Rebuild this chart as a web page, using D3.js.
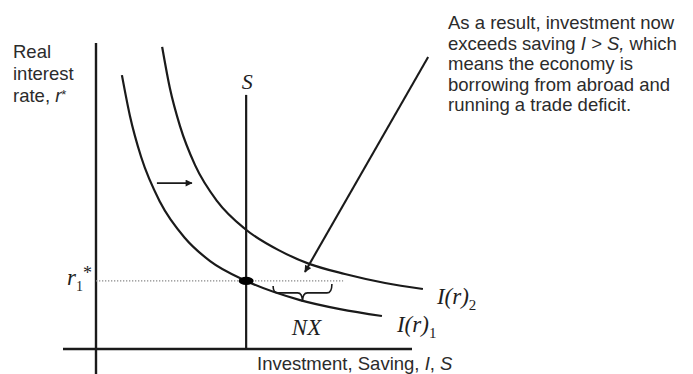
<!DOCTYPE html>
<html>
<head>
<meta charset="utf-8">
<script src="https://cdnjs.cloudflare.com/ajax/libs/d3/7.8.5/d3.min.js"></script>
<style>
    body { margin: 0; background: #fff; }
    .lbl { font-family: "Liberation Sans", Arial, sans-serif; font-size: 18.5px; fill: #2b2b2b; }
    .math { font-family: "Liberation Serif", "Times New Roman", serif; font-style: italic; fill: #1e1e1e; }
</style>
</head>
<body>
<div class="chart"></div>
<script>

// I(r)1 curve (investment, real interest rate)
var invest1 = [7.4, 9.7, 12.9, 18.3, 25.4, 32.6, 42.9, 58.3, 69.7, 81.7];
var rate1   = [91.3, 77.7, 64, 49, 37, 29.3, 22.7, 16.3, 13.3, 11];

// I(r)2 curve, shifted out to the right
var invest2 = [18.9, 21.1, 24, 28.3, 34.6, 42.6, 52.6, 61.1, 71.1, 82.6, 93.4];
var rate2   = [100.7, 87, 74.3, 61.3, 49.3, 40, 32.7, 28.3, 25, 22, 20];

// vertical saving line and world rate
var saving = 42.9;
var rStar = 22.7;
var nxRange = [50.6, 67.4];

// shift arrow and the pointer from the note
var shiftFrom = [17.4, 55.3];
var shiftTo = [27.4, 55.3];
var noteFrom = [94.9, 97.3];
var noteTo = [59.7, 25.7];

var yLabelLines = ["Real", "interest", "rate, "];
var noteLines = [
    ["As a result, investment now"],
    ["exceeds saving ", "I > S,", " which"],
    ["means the economy is"],
    ["borrowing from abroad and"],
    ["running a trade deficit."]
];

function chart() {

    var W = 693, H = 374;

    var svg = d3.select(".chart").append("svg")
        .attr("width", W)
        .attr("height", H)
        .style("display", "block");

    svg.append("rect")
        .attr("width", W)
        .attr("height", H)
        .attr("fill", "#fff");

    var x = d3.scaleLinear().domain([0, 100]).range([96, 446]);
    var y = d3.scaleLinear().domain([0, 100]).range([349, 49]);

    var ink = "#1a1a1a";

    var defs = svg.append("defs");
    defs.append("marker")
        .attr("id", "head")
        .attr("viewBox", "0 0 10 10")
        .attr("refX", 9)
        .attr("refY", 5)
        .attr("markerWidth", 9)
        .attr("markerHeight", 7)
        .attr("markerUnits", "userSpaceOnUse")
        .attr("orient", "auto")
        .append("path")
        .attr("d", "M0,0 L10,5 L0,10 Z")
        .attr("fill", ink);

    // axes
    svg.append("line")
        .attr("x1", x(0)).attr("x2", x(0))
        .attr("y1", 43).attr("y2", H)
        .attr("stroke", ink)
        .attr("stroke-width", 2.4);

    svg.append("line")
        .attr("x1", 63).attr("x2", 412)
        .attr("y1", y(0)).attr("y2", y(0))
        .attr("stroke", ink)
        .attr("stroke-width", 2.6);

    // dotted world rate line
    svg.append("line")
        .attr("x1", x(0)).attr("x2", x(70.6))
        .attr("y1", y(rStar)).attr("y2", y(rStar))
        .attr("stroke", "#888")
        .attr("stroke-width", 1.3)
        .attr("stroke-dasharray", "1.3,1.7");

    // saving line
    svg.append("line")
        .attr("x1", x(saving)).attr("x2", x(saving))
        .attr("y1", y(84.7)).attr("y2", y(0))
        .attr("stroke", ink)
        .attr("stroke-width", 2.2);

    svg.append("text")
        .attr("class", "math")
        .attr("x", x(saving) + 1)
        .attr("y", y(84.7) - 6)
        .attr("text-anchor", "middle")
        .style("font-size", "22px")
        .text("S");

    // investment curves
    var line = d3.line()
        .x(d => x(d[0]))
        .y(d => y(d[1]))
        .curve(d3.curveMonotoneX);

    var pts1 = invest1.map((v, i) => [v, rate1[i]]);
    var pts2 = invest2.map((v, i) => [v, rate2[i]]);

    svg.append("path")
        .attr("d", line(pts1))
        .attr("fill", "none")
        .attr("stroke", ink)
        .attr("stroke-width", 2.2);

    svg.append("path")
        .attr("d", line(pts2))
        .attr("fill", "none")
        .attr("stroke", ink)
        .attr("stroke-width", 2.2);

    // equilibrium dot
    svg.append("ellipse")
        .attr("cx", x(saving))
        .attr("cy", y(rStar))
        .attr("rx", 7.5)
        .attr("ry", 4.2)
        .attr("fill", "#000");

    // NX brace
    var bx0 = x(nxRange[0]), bx1 = x(nxRange[1]), bm = (bx0 + bx1) / 2;
    var by = y(rStar);
    svg.append("path")
        .attr("d", "M" + bx0 + "," + (by + 5)
            + " Q" + bx0 + "," + (by + 12) + " " + (bx0 + 5) + "," + (by + 12)
            + " L" + (bm - 5) + "," + (by + 12)
            + " Q" + bm + "," + (by + 12) + " " + bm + "," + (by + 21)
            + " Q" + bm + "," + (by + 12) + " " + (bm + 5) + "," + (by + 12)
            + " L" + (bx1 - 5) + "," + (by + 12)
            + " Q" + bx1 + "," + (by + 12) + " " + bx1 + "," + (by + 3))
        .attr("fill", "none")
        .attr("stroke", ink)
        .attr("stroke-width", 1.6);

    svg.append("text")
        .attr("class", "math")
        .attr("x", bm + 4)
        .attr("y", by + 54)
        .attr("text-anchor", "middle")
        .style("font-size", "23px")
        .text("NX");

    // shift arrow
    svg.append("line")
        .attr("x1", x(shiftFrom[0])).attr("y1", y(shiftFrom[1]))
        .attr("x2", x(shiftTo[0])).attr("y2", y(shiftTo[1]))
        .attr("stroke", ink)
        .attr("stroke-width", 1.8)
        .attr("marker-end", "url(#head)");

    // pointer from the note
    svg.append("line")
        .attr("x1", x(noteFrom[0])).attr("y1", y(noteFrom[1]))
        .attr("x2", x(noteTo[0])).attr("y2", y(noteTo[1]))
        .attr("stroke", ink)
        .attr("stroke-width", 2.1)
        .attr("marker-end", "url(#head)");

    // curve labels
    function curveLabel(pt, sub, dx, dy) {
        var t = svg.append("text")
            .attr("class", "math")
            .attr("x", x(pt[0]) + dx)
            .attr("y", y(pt[1]) + dy)
            .style("font-size", "23px");
        t.append("tspan").text("I(r)");
        t.append("tspan")
            .attr("dy", 6)
            .style("font-style", "normal")
            .style("font-size", "15px")
            .text(sub);
    }
    curveLabel(pts1[pts1.length - 1], "1", 15, 16);
    curveLabel(pts2[pts2.length - 1], "2", 14, 15);

    // r1* on the axis
    var rl = svg.append("text")
        .attr("class", "math")
        .attr("x", x(0) - 4)
        .attr("y", y(rStar) + 4)
        .attr("text-anchor", "end")
        .style("font-size", "23px");
    rl.append("tspan").text("r");
    rl.append("tspan")
        .attr("dy", 6)
        .style("font-style", "normal")
        .style("font-size", "14px")
        .text("1");
    rl.append("tspan")
        .attr("dy", -12)
        .style("font-style", "normal")
        .style("font-size", "18px")
        .text("*");

    // y axis title
    yLabelLines.forEach((s, i) => {
        var t = svg.append("text")
            .attr("class", "lbl")
            .attr("x", 13)
            .attr("y", 58 + i * 22)
            .text(s);
        if (i == 2) {
            t.append("tspan").style("font-style", "italic").text("r");
            t.append("tspan").attr("dy", -3).style("font-size", "13px").text("*");
        }
    });

    // x axis title
    var xt = svg.append("text")
        .attr("class", "lbl")
        .attr("x", 257)
        .attr("y", 370);
    xt.append("tspan").text("Investment, Saving, ");
    xt.append("tspan").style("font-style", "italic").text("I");
    xt.append("tspan").text(", ");
    xt.append("tspan").style("font-style", "italic").text("S");

    // note text
    noteLines.forEach((parts, i) => {
        var t = svg.append("text")
            .attr("class", "lbl")
            .attr("x", 448)
            .attr("y", 29 + i * 20.5);
        parts.forEach((p, j) => {
            t.append("tspan")
                .style("font-style", j == 1 ? "italic" : "normal")
                .text(p);
        });
    });
}

chart();
</script>
</body>
</html>
